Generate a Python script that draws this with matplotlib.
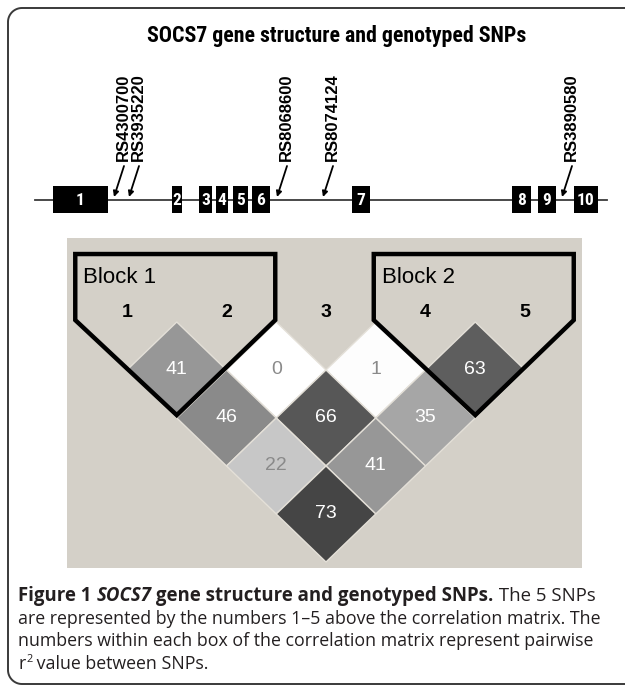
import matplotlib
matplotlib.use('Agg')
import numpy as np
import matplotlib.pyplot as plt
from matplotlib.patches import Rectangle, Polygon
from matplotlib.colors import LinearSegmentedColormap, Normalize

# ---------------- data ----------------
title = 'SOCS7 gene structure and genotyped SNPs'
exon_labels = ['1', '2', '3', '4', '5', '6', '7', '8', '9', '10']
exon_start = [53, 172, 199, 216, 233, 252, 352, 512, 538, 574]
exon_end = [108, 182, 212, 228, 248, 270, 370, 531, 556, 598]
gene_span = [35, 607]
snp_names = ['RS4300700', 'RS3935220', 'RS8068600', 'RS8074124', 'RS3890580']
snp_pos = [114, 129, 277, 323, 562]

ld_labels = ['1', '2', '3', '4', '5']
ld_first = [1, 2, 3, 4, 1, 2, 3, 1, 2, 1]
ld_second = [2, 3, 4, 5, 3, 4, 5, 4, 5, 5]
ld_r2 = [41, 0, 1, 63, 46, 66, 35, 22, 41, 73]
block_names = ['Block 1', 'Block 2']
block_start = [1, 4]
block_end = [2, 5]

W, H = 625, 693
fig = plt.figure(figsize=(W / 100, H / 100), dpi=100)
fig.patch.set_facecolor('white')
ax = fig.add_axes([0, 0, 1, 1])
ax.set_xlim(0, W)
ax.set_ylim(H, 0)
ax.axis('off')

cond = ['Roboto Condensed', 'PT Sans Narrow', 'Liberation Sans']
sans = ['Liberation Sans', 'DejaVu Sans']
cap_font = ['Open Sans', 'DejaVu Sans']

# frame (open on the right, rounded left corners)
rr = 14
x0, y0, y1 = 8, 8, 684
ta = np.linspace(-0.5 * np.pi, -np.pi, 20)
tb = np.linspace(np.pi, 0.5 * np.pi, 20)
fx = np.concatenate([[W + 5], x0 + rr + rr * np.cos(ta), x0 + rr + rr * np.cos(tb), [W + 5]])
fy = np.concatenate([[y0], y0 + rr + rr * np.sin(ta), y1 - rr + rr * np.sin(tb), [y1]])
ax.plot(fx, fy, color='#3a3a3a', lw=1.4, zorder=1, solid_joinstyle='round')

fig.canvas.draw()
r = fig.canvas.get_renderer()

# title (fit to measured width)
tt = ax.text(337, 36, title, ha='center', va='center', fontsize=15, fontweight='bold',
             family=cond, color='black')
tw = tt.get_window_extent(renderer=r).width
tt.set_fontsize(15 * 381 / tw)

# gene line and exons
gy = 200
ax.plot(gene_span, [gy, gy], color='#3a3a3a', lw=1.3, zorder=2)
for lab, s, e in zip(exon_labels, exon_start, exon_end):
    ax.add_patch(Rectangle((s, 186), e - s, 27, fc='black', ec='none', zorder=3))
    ax.text((s + e) / 2, 200.5, lab, ha='center', va='center', color='white',
            fontsize=12.5, fontweight='bold', family=cond, zorder=4)

# SNP arrows and labels
for name, p in zip(snp_names, snp_pos):
    ax.annotate('', xy=(p, 197), xytext=(p + 10, 166),
                arrowprops=dict(arrowstyle='-|>', color='black', lw=1.3,
                                mutation_scale=8, shrinkA=0, shrinkB=0), zorder=4)
    ax.text(p + 9.5, 161, name, rotation=90, ha='center', va='bottom',
            fontsize=12, fontweight='bold', family=sans, color='black')

# ---------------- LD panel ----------------
px0, px1, py0, py1 = 67, 582, 238, 568
ax2 = fig.add_axes([px0 / W, 1 - py1 / H, (px1 - px0) / W, (py1 - py0) / H])
ax2.set_facecolor('#d4d0c8')
for sp in ax2.spines.values():
    sp.set_visible(False)
ax2.set_xticks([])
ax2.set_yticks([])
xu = 99.5
yu = 96.0
x_first = 1 - (127 - px0) / xu
ax2.set_xlim(x_first, x_first + (px1 - px0) / xu)
ytop = (322 - py0) / yu
ax2.set_ylim(ytop - (py1 - py0) / yu, ytop)

cmap = LinearSegmentedColormap.from_list('ld', ['#ffffff', '#000000'])
norm = Normalize(0, 100)
for i, j, v in zip(ld_first, ld_second, ld_r2):
    cx = (i + j) / 2
    cy = -(j - i) * 0.5
    verts = [(cx, cy + 0.5), (cx + 0.5, cy), (cx, cy - 0.5), (cx - 0.5, cy)]
    ax2.add_patch(Polygon(verts, closed=True, fc=cmap(norm(v)), ec='#e4e0d8', lw=1.0, zorder=2))
    tc = 'white' if v >= 30 else '#8a8a8a'
    ax2.text(cx, cy, str(v), ha='center', va='center', color=tc, fontsize=14,
             family=sans, zorder=3)

for k, lab in enumerate(ld_labels):
    ax2.text(k + 1, 0.10, lab, ha='center', va='center', fontsize=14,
             fontweight='bold', family=sans, color='black', zorder=3)

for name, s, e in zip(block_names, block_start, block_end):
    top = 0.708
    left, right = s - 0.52, e + 0.49
    mid = (s + e) / 2
    bot = -(right - mid)
    verts = [(left, top), (right, top), (right, 0.02), (mid, bot + 0.02), (left, 0.02)]
    ax2.add_patch(Polygon(verts, closed=True, fc='none', ec='black', lw=3.2,
                          joinstyle='miter', zorder=4))
    ax2.text(left + 0.08, 0.46, name, ha='left', va='center', fontsize=16,
             family=sans, color='black', zorder=4)

# ---------------- caption ----------------
probe = ax.text(0, 0, 'are represented by the numbers 1\u20135 above the correlation matrix. The',
                fontsize=10, family=cap_font)
pw = probe.get_window_extent(renderer=r).width
probe.remove()
cap_size = 10 * 580 / pw
ccol = '#231f20'


def runs(x, y, parts, size):
    arts = []
    for txt, kw in parts:
        kw2 = dict(fontsize=size, family=cap_font, color=ccol)
        kw2.update(kw)
        t = ax.text(x, y, txt, ha='left', va='baseline', **kw2)
        arts.append(t)
        x += t.get_window_extent(renderer=r).width
    return x, arts


b = dict(fontweight='bold')
line1 = [('Figure 1', b), (' ', b), ('SOCS7', dict(fontweight='bold', style='italic')),
         (' gene structure and genotyped SNPs.', b), (' The 5 SNPs', {})]
xe, arts = runs(18, 601, line1, cap_size)
for a in arts:
    a.remove()
size1 = cap_size * 580 / (xe - 18)
runs(18, 601, line1, size1)
runs(18, 624, [('are represented by the numbers 1\u20135 above the correlation matrix. The', {})], cap_size)
runs(18, 646, [('numbers within each box of the correlation matrix represent pairwise', {})], cap_size)
x, _ = runs(18, 669, [('r', {})], cap_size)
sup = ax.text(x + 1, 662, '2', ha='left', va='baseline', fontsize=cap_size * 0.62,
              family=cap_font, color=ccol)
x2 = x + 1 + sup.get_window_extent(renderer=r).width
runs(x2, 669, [(' value between SNPs.', {})], cap_size)

fig.savefig('out.png', dpi=100, facecolor='white')
